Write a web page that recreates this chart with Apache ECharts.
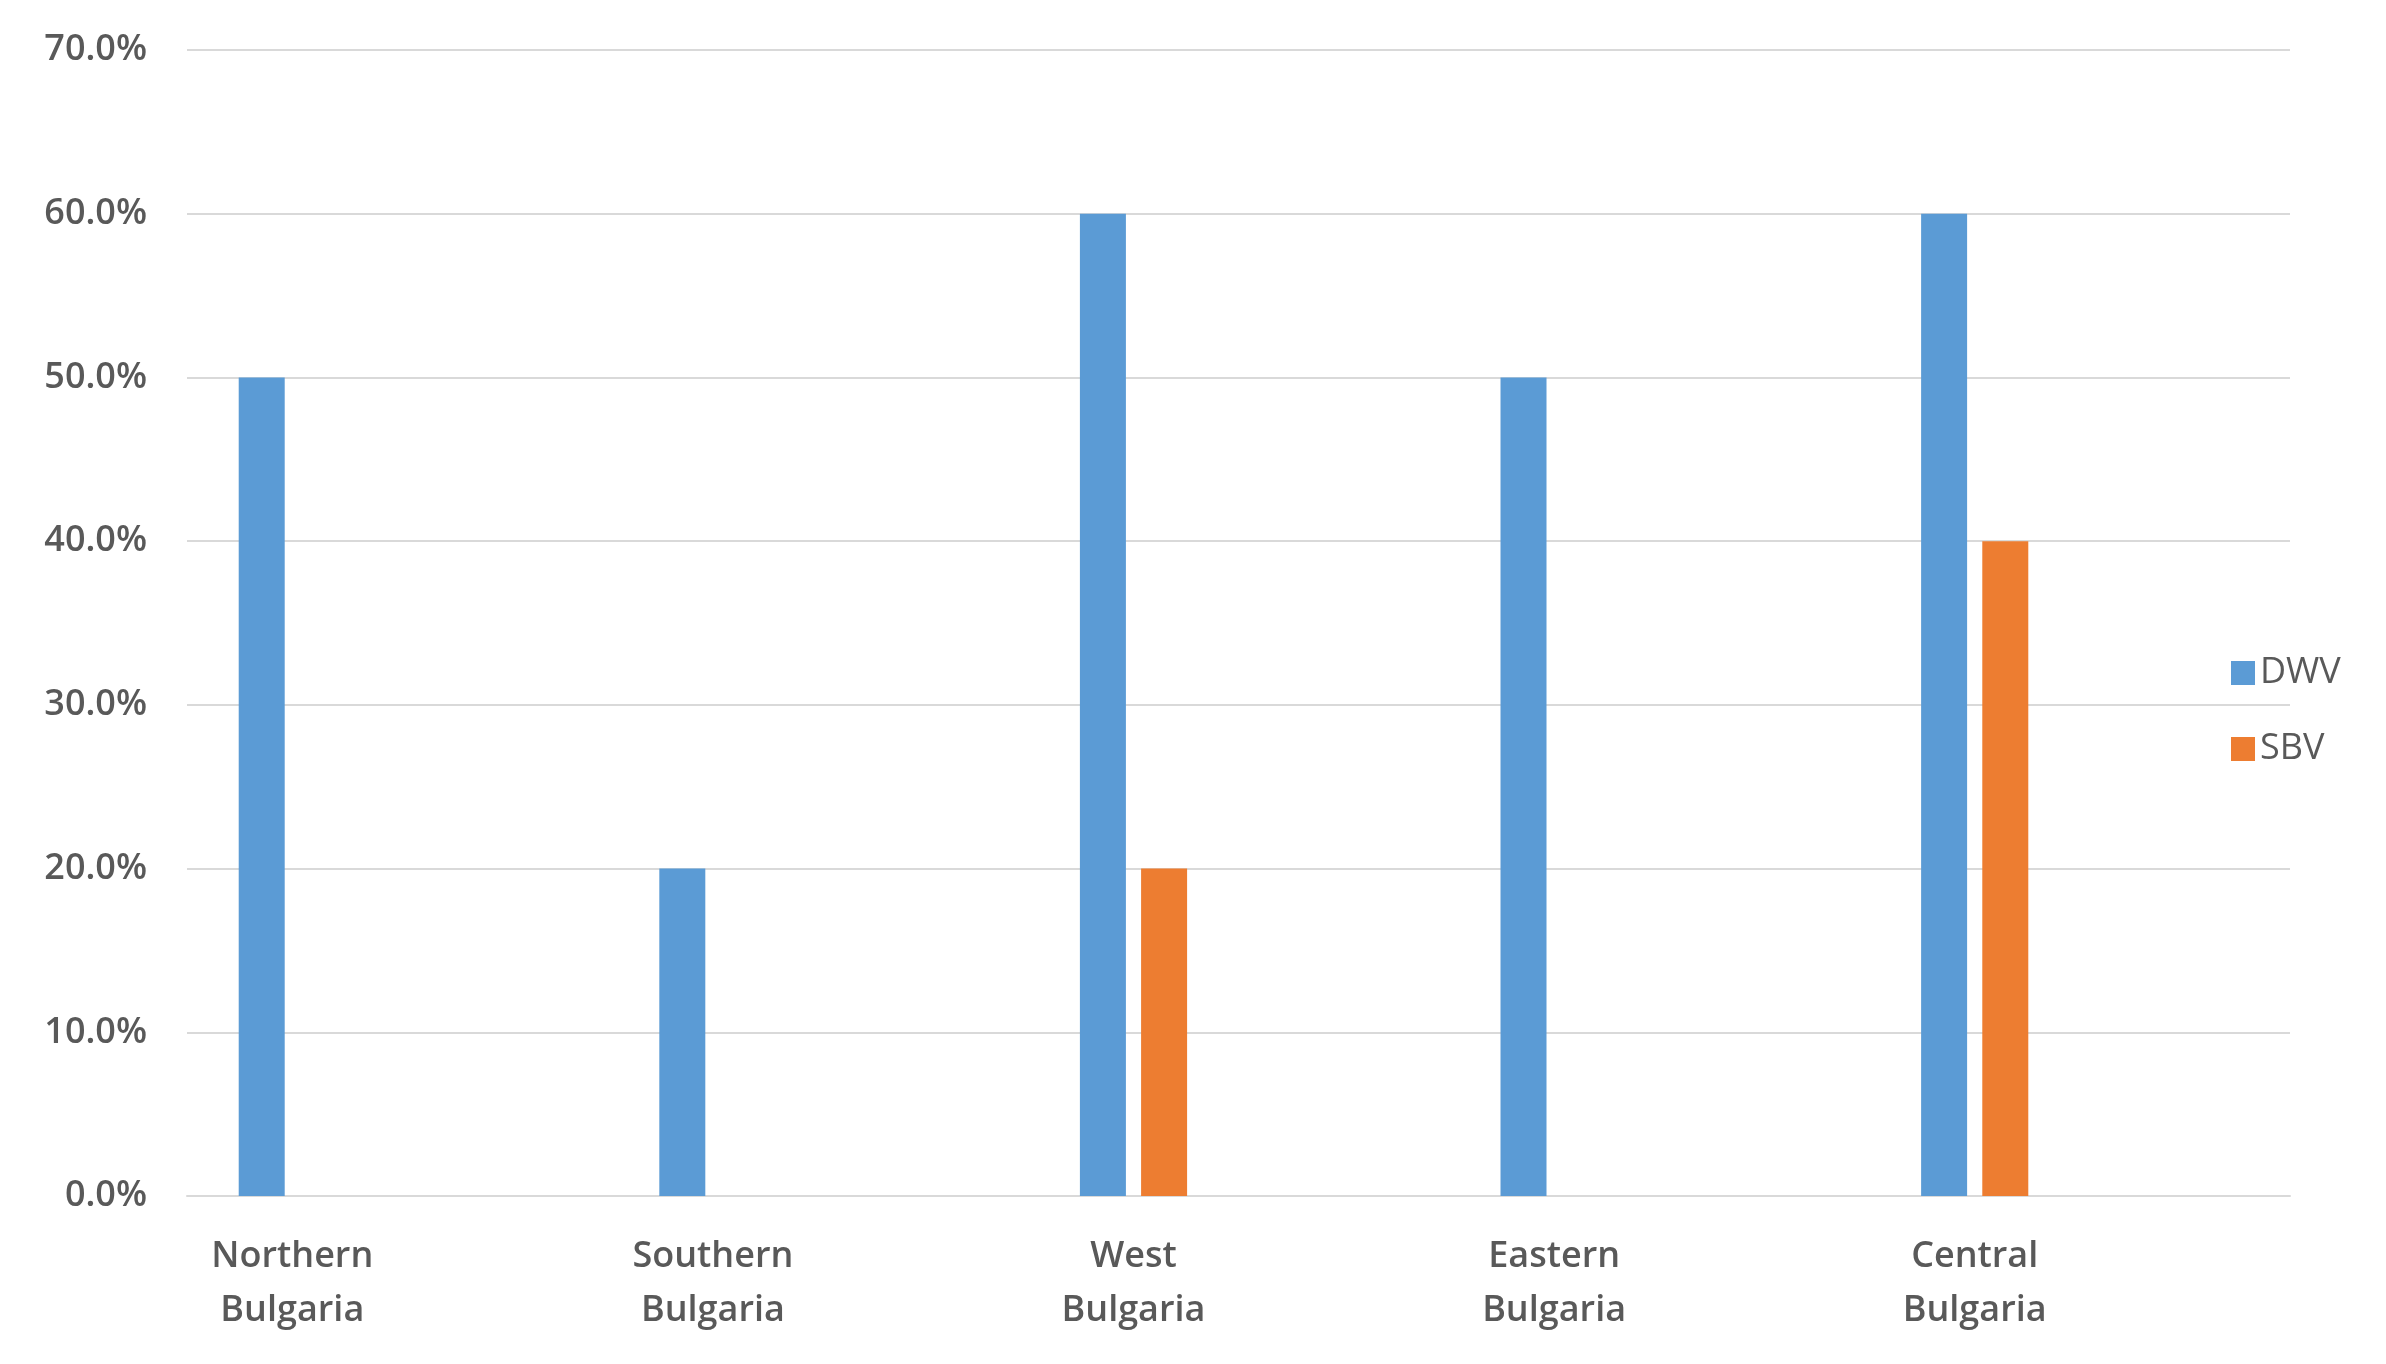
<!DOCTYPE html>
<html>
<head>
<meta charset="utf-8">
<script src="https://cdn.jsdelivr.net/npm/echarts@6/dist/echarts.min.js"></script>
<style>html,body{margin:0;padding:0;background:#fff}#chart{width:2386px;height:1364px}</style>
</head>
<body>
<div id="chart"></div>
<script>
const regions = ['Northern\nBulgaria', 'Southern\nBulgaria', 'West\nBulgaria', 'Eastern\nBulgaria', 'Central\nBulgaria'];
const dwv = [0.5, 0.2, 0.6, 0.5, 0.6];
const sbv = [null, null, 0.2, null, 0.4];

const chart = echarts.init(document.getElementById('chart'));
const labelFont = { color: '#595959', fontSize: 36, fontFamily: 'Open Sans', fontWeight: 600 };
chart.setOption({
    animation: false,
    legend: {
        orient: 'vertical', left: 2226, top: 650, itemWidth: 24, itemHeight: 24, itemGap: 40,
        icon: 'rect', textStyle: { color: '#595959', fontSize: 36, fontFamily: 'Open Sans' },
        data: ['DWV', 'SBV']
    },
    grid: [
        { left: 187, width: 2103, top: 50, bottom: 168 },
        { left: 82, width: 2103, top: 50, bottom: 168 }
    ],
    xAxis: [
        { gridIndex: 0, type: 'category', data: regions, axisLabel: { show: false }, axisTick: { show: false },
          axisLine: { lineStyle: { color: '#d9d9d9', width: 2 } } },
        { gridIndex: 1, type: 'category', data: regions, axisTick: { show: false }, axisLine: { show: false },
          axisLabel: Object.assign({ margin: 34, lineHeight: 54 }, labelFont) }
    ],
    yAxis: [
        { gridIndex: 0, type: 'value', min: 0, max: 0.7, interval: 0.1,
          axisLabel: Object.assign({ margin: 40, formatter: v => (v * 100).toFixed(1) + '%' }, labelFont),
          splitLine: { lineStyle: { color: '#d9d9d9', width: 2 } } },
        { gridIndex: 1, type: 'value', min: 0, max: 0.7, interval: 0.1, show: false }
    ],
    series: [
        { name: 'DWV', type: 'bar', xAxisIndex: 1, yAxisIndex: 1, data: dwv, barWidth: 46, barGap: '33%',
          itemStyle: { color: '#5B9BD5' } },
        { name: 'SBV', type: 'bar', xAxisIndex: 1, yAxisIndex: 1, data: sbv, barWidth: 46,
          itemStyle: { color: '#ED7D31' } }
    ]
});
</script>
</body>
</html>
